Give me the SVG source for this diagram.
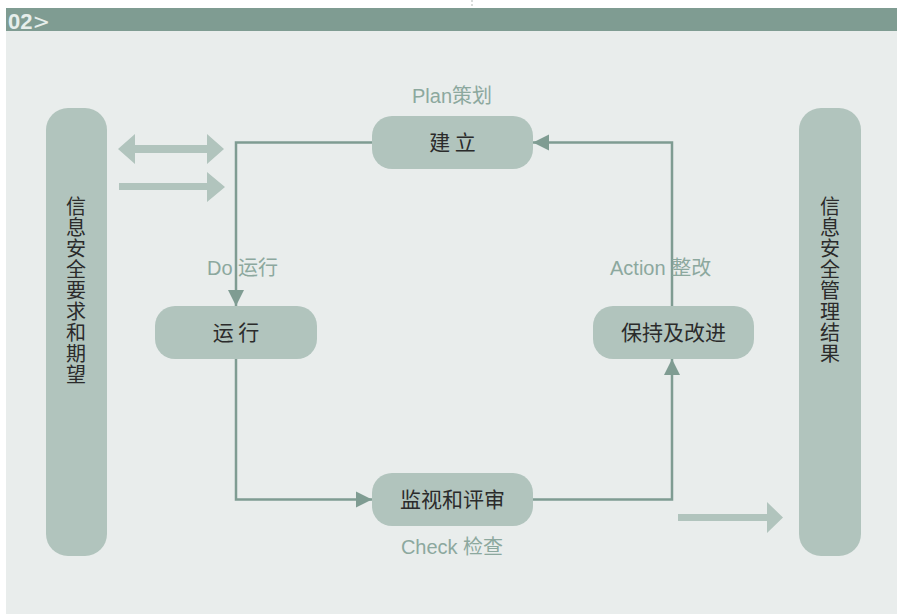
<svg xmlns="http://www.w3.org/2000/svg" width="897" height="614" viewBox="0 0 897 614">
<style>
.bar{fill:#B1C4BD}
.node{fill:#B1C4BD}
.ntxt{font-family:"Noto Sans CJK SC","Liberation Sans",sans-serif;font-size:21px;fill:#2b2b2b;text-anchor:middle}
.vtxt{font-family:"Noto Sans CJK SC","Liberation Sans",sans-serif;font-size:20px;fill:#2b2b2b;writing-mode:vertical-rl;letter-spacing:1px}
.lbl{font-family:"Liberation Sans","Noto Sans CJK SC",sans-serif;font-size:20px;fill:#8CA89E}
.conn{fill:none;stroke:#7F9C92;stroke-width:2.5}
.big{fill:#B1C4BD}
</style>
<defs>
<marker id="ah" viewBox="0 0 10 10" refX="10" refY="5" markerWidth="6.5" markerHeight="7" markerUnits="strokeWidth" orient="auto">
<path d="M0,0 L10,5 L0,10 z" fill="#7F9C92"/>
</marker>
</defs>
<rect x="0" y="0" width="897" height="614" fill="#ffffff"/>
<line x1="472" y1="0" x2="472" y2="8" stroke="#b0b8b5" stroke-width="1" stroke-dasharray="2,2"/>
<rect x="6" y="31" width="891" height="583" fill="#E9EDEC"/>
<rect x="6" y="8" width="891" height="23" fill="#7F9C92"/>
<text x="8" y="29" font-family="Liberation Sans,Arial,sans-serif" font-size="22" font-weight="bold" fill="#E6EEEB">02<tspan font-weight="normal" font-family="DejaVu Sans,sans-serif" font-size="21">&gt;</tspan></text>

<g id="left-bar">
<rect class="bar" x="46" y="108" width="61" height="448" rx="22"/>
<text class="vtxt" x="76" y="196">信息安全要求和期望</text>
</g>
<g id="right-bar">
<rect class="bar" x="799" y="108" width="62" height="448" rx="22"/>
<text class="vtxt" x="830" y="196">信息安全管理结果</text>
</g>

<g id="io-arrows">
<path class="big" d="M118,149 L135,134 L135,145 L207,145 L207,134 L224,149 L207,164 L207,153 L135,153 L135,164 Z"/>
<path class="big" d="M119,183 L207,183 L207,172 L225,187 L207,202 L207,190 L119,190 Z"/>
<path class="big" d="M678,514 L767,514 L767,502 L783,517.5 L767,533 L767,521 L678,521 Z"/>
</g>

<g id="connectors">
<path class="conn" d="M372,142.5 L236,142.5 L236,306" marker-end="url(#ah)"/>
<path class="conn" d="M236,359 L236,499.5 L372,499.5" marker-end="url(#ah)"/>
<path class="conn" d="M533,499.5 L672,499.5 L672,359" marker-end="url(#ah)"/>
<path class="conn" d="M672,306 L672,142.5 L533,142.5" marker-end="url(#ah)"/>
</g>

<g id="labels">
<text class="lbl" x="452" y="103" text-anchor="middle">Plan策划</text>
<text class="lbl" x="207" y="275">Do 运行</text>
<text class="lbl" x="610" y="275">Action 整改</text>
<text class="lbl" x="452" y="554" text-anchor="middle">Check 检查</text>
</g>

<g id="node-jianli">
<rect class="node" x="372" y="116" width="161" height="53" rx="20"/>
<text class="ntxt" x="452.5" y="150">建 立</text>
</g>
<g id="node-yunxing">
<rect class="node" x="155" y="306" width="162" height="53" rx="20"/>
<text class="ntxt" x="236" y="340">运 行</text>
</g>
<g id="node-baochi">
<rect class="node" x="593" y="306" width="161" height="53" rx="20"/>
<text class="ntxt" x="673.5" y="340">保持及改进</text>
</g>
<g id="node-jianshi">
<rect class="node" x="372" y="473" width="161" height="53" rx="20"/>
<text class="ntxt" x="452.5" y="507">监视和评审</text>
</g>
</svg>
